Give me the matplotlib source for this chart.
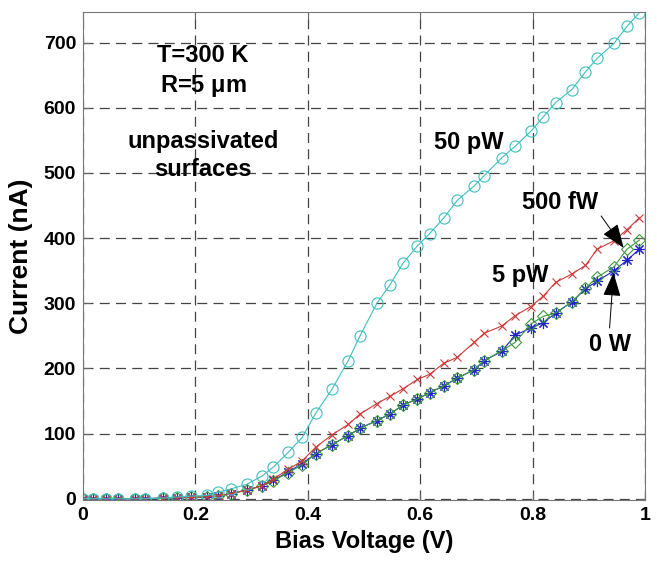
import matplotlib
matplotlib.use('Agg')
import matplotlib.pyplot as plt

plt.rcParams['font.family'] = ['Liberation Sans', 'DejaVu Sans']
plt.rcParams['font.weight'] = 'bold'

# bias voltage (V), shared by all curves
volts = [0, 0.018, 0.041, 0.063, 0.092, 0.111, 0.143, 0.167, 0.192, 0.220,
         0.241, 0.263, 0.291, 0.319, 0.338, 0.365, 0.390, 0.414, 0.443, 0.472,
         0.493, 0.523, 0.546, 0.570, 0.595, 0.617, 0.642, 0.666, 0.696, 0.714,
         0.745, 0.769, 0.797, 0.819, 0.841, 0.870, 0.894, 0.915, 0.945, 0.968,
         0.990]

# current (nA)
i_0w = [0, 0, 0, 0, 0, 0, 1, 1.5, 2, 3,
        4, 8, 13, 20, 28, 41, 54, 69, 83, 97,
        108, 120, 130, 144, 153, 163, 173, 185, 198, 212,
        226, 251, 262, 270, 285, 302, 322, 334, 350, 366,
        383]
i_500fw = [0, 0, 0, 0, 0, 0, 1, 1.5, 2, 3,
           4, 8, 13, 20, 27, 40, 52, 69, 83, 97,
           108, 120, 130, 144, 153, 163, 173, 185, 198, 212,
           227, 240, 268, 280, 285, 302, 323, 340, 356, 383,
           397]
i_5pw = [0, 0, 0, 0, 0, 0, 1, 1.5, 2, 3,
         4, 8, 13, 20, 30, 45, 58, 79, 98, 114,
         130, 146, 157, 169, 183, 191, 208, 217, 240, 254,
         265, 281, 295, 311, 332, 345, 358, 383, 396, 413,
         431]
i_50pw = [0, 0, 0, 0, 0, 0, 1, 2.5, 4, 5,
          10, 15, 22, 35, 48, 71, 94, 131, 168, 212,
          250, 300, 328, 362, 388, 407, 431, 458, 480, 496,
          523, 541, 564, 586, 608, 628, 655, 676, 699, 725,
          746]

fig = plt.figure(figsize=(6.57, 5.61), dpi=100)
ax = fig.add_axes([0.1263, 0.1087, 0.8554, 0.8699])

ax.plot(volts, i_0w, '-', color='#2222cc', marker=(8, 2, 0), ms=8, mew=0.8, lw=0.8)
ax.plot(volts, i_500fw, '-', color='#3c9a3c', marker='D', ms=6, mfc='none', mew=0.8, lw=0.8)
ax.plot(volts, i_5pw, '-', color='#cc3a3a', marker='x', ms=6, mew=0.8, lw=0.8)
ax.plot(volts, i_50pw, '-', color='#3fbfbf', marker='o', ms=8, mfc='none', mew=0.8, lw=0.8)

ax.set_xlim(0, 1)
ax.set_ylim(-2, 747)
ax.set_xticks([0, 0.2, 0.4, 0.6, 0.8, 1])
ax.set_xticklabels(['0', '0.2', '0.4', '0.6', '0.8', '1'])
ax.set_yticks(range(0, 800, 100))
ax.tick_params(direction='in', length=5, labelsize=14, top=True, right=True,
               color='#666666', pad=5)
for s in ax.spines.values():
    s.set_color('#777777')
ax.grid(True, color='#444444', linestyle=(0, (8, 5)), lw=0.9)

ax.set_xlabel('Bias Voltage (V)', fontsize=17, fontweight='bold', labelpad=4)
ax.set_ylabel('Current (nA)', fontsize=19, fontweight='bold', labelpad=8)

ax.text(0.214, 681, 'T=300 K', fontsize=17, ha='center', va='center')
ax.text(0.214, 634, r'R=5 $\mathregular{\mu}$m', fontsize=17, ha='center', va='center')
ax.text(0.214, 549, 'unpassivated', fontsize=17, ha='center', va='center')
ax.text(0.214, 505, 'surfaces', fontsize=17, ha='center', va='center')

ax.text(0.686, 546, '50 pW', fontsize=17, ha='center', va='center')
ax.text(0.778, 342, '5 pW', fontsize=17, ha='center', va='center')
ax.text(0.849, 454, '500 fW', fontsize=17, ha='center', va='center')
ax.text(0.938, 237, '0 W', fontsize=17, ha='center', va='center')

head = dict(arrowstyle='-|>,head_length=0.75,head_width=0.28', color='black',
            lw=0.7, shrinkA=0, shrinkB=0, mutation_scale=20)
ax.annotate('', xy=(0.962, 385), xytext=(0.922, 434), arrowprops=head)
ax.annotate('', xy=(0.944, 347), xytext=(0.937, 262), arrowprops=head)

fig.savefig('out.png', dpi=100)
